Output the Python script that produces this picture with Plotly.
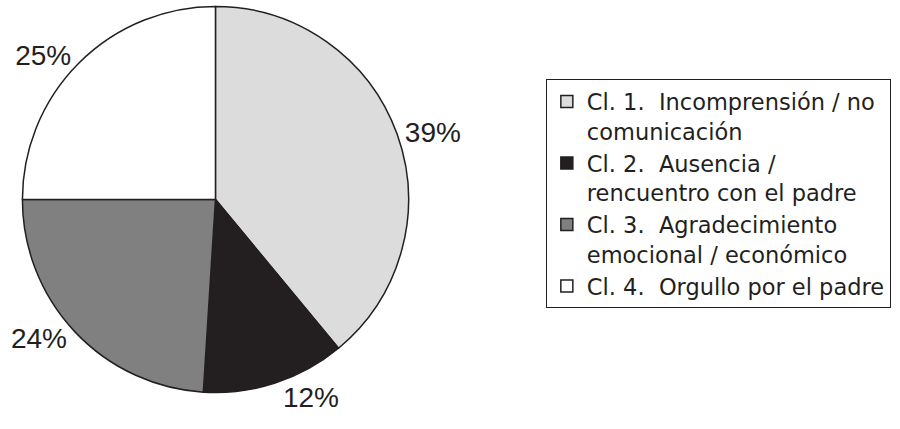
import plotly.graph_objects as go

labels = [
    "Cl. 1.  Incomprensión / no<br>comunicación",
    "Cl. 2.  Ausencia /<br>rencuentro con el padre",
    "Cl. 3.  Agradecimiento<br>emocional / económico",
    "Cl. 4.  Orgullo por el padre",
]
values = [39, 12, 24, 25]
colors = ["#dcdcdc", "#231f20", "#808080", "#ffffff"]

fig = go.Figure(
    go.Pie(
        labels=labels,
        values=values,
        sort=False,
        direction="clockwise",
        rotation=0,
        marker=dict(colors=colors, line=dict(color="#231f20", width=1.5)),
        texttemplate="%{value}%",
        textposition="outside",
        textfont=dict(family="Liberation Sans, Arial, sans-serif", size=28, color="#231f20"),
        domain=dict(x=[0.0, 0.446], y=[0.085, 0.985]),
        showlegend=True,
        hoverinfo="skip",
    )
)

fig.update_layout(
    width=900,
    height=429,
    margin=dict(l=0, r=0, t=0, b=0),
    paper_bgcolor="white",
    plot_bgcolor="white",
    font=dict(family="Liberation Sans, Arial, sans-serif", color="#231f20"),
    legend=dict(
        x=0.598,
        y=0.815,
        xanchor="left",
        yanchor="top",
        bordercolor="#231f20",
        borderwidth=1,
        font=dict(family="DejaVu Sans, sans-serif", size=22.5, color="#231f20"),
        valign="top",
        itemwidth=30,
        itemclick=False,
    ),
)

fig.write_html("out.html")
